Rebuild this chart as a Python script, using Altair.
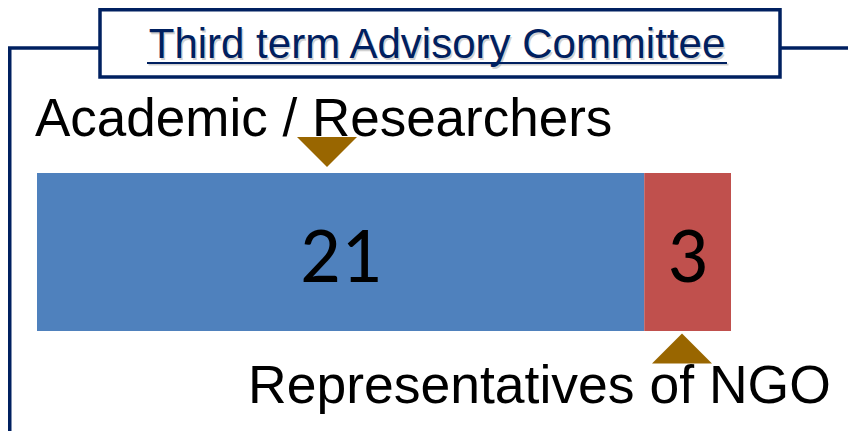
import altair as alt
import pandas as pd

# ---- data ----
segments = ["Academic / Researchers", "Representatives of NGO"]
counts = [21, 3]
seg_colors = ["#4F81BD", "#C0504D"]
title_text = "Third term Advisory Committee"

starts, ends = [], []
acc = 0
for c in counts:
    starts.append(acc)
    acc += c
    ends.append(acc)

df = pd.DataFrame({
    "segment": segments,
    "count": counts,
    "start": starts,
    "end": ends,
    "row": ["Committee"] * len(segments),
})
one = pd.DataFrame({"k": [0]})

NAVY = "#002060"
BROWN = "#996600"
LW = 3.5

xscale = alt.Scale(domain=[0, sum(counts)], range=[29, 723], nice=False, zero=True)
yscale = alt.Scale(range=[165, 323], paddingInner=0, paddingOuter=0)

bars = alt.Chart(df).mark_bar(size=158).encode(
    x=alt.X("start:Q", scale=xscale, axis=None),
    x2="end:Q",
    y=alt.Y("row:N", scale=yscale, axis=None),
    color=alt.Color("segment:N", scale=alt.Scale(domain=segments, range=seg_colors), legend=None),
)

labels = alt.Chart(df).transform_calculate(
    mid="(datum.start + datum.end) / 2"
).mark_text(font="Carlito, Lato, sans-serif", fontSize=80, color="black",
            baseline="alphabetic", dy=30).encode(
    x=alt.X("mid:Q", scale=xscale, axis=None),
    y=alt.Y("row:N", scale=yscale, axis=None),
    text=alt.Text("count:Q"),
)

base = alt.Chart(one)

# frame lines
vline = base.mark_rule(color=NAVY, strokeWidth=LW).encode(
    x=alt.value(1.75), y=alt.value(40), y2=alt.value(440))
hline_l = base.mark_rule(color=NAVY, strokeWidth=LW).encode(
    x=alt.value(0), x2=alt.value(92), y=alt.value(40))
hline_r = base.mark_rule(color=NAVY, strokeWidth=LW).encode(
    x=alt.value(772), x2=alt.value(860), y=alt.value(40))

# title box
box = base.mark_rect(fill="white", stroke=NAVY, strokeWidth=LW).encode(
    x=alt.value(92), x2=alt.value(772), y=alt.value(1.75), y2=alt.value(69))

title_shadow = base.mark_text(font="Liberation Sans", fontSize=42, color="#9a9a9a", opacity=0.45,
                              align="center", baseline="alphabetic").encode(
    x=alt.value(430.5), y=alt.value(51.5), text=alt.value(title_text))
underline_shadow = base.mark_rule(color="#9a9a9a", opacity=0.45, strokeWidth=2).encode(
    x=alt.value(140.5), x2=alt.value(720.5), y=alt.value(56.5))
title = base.mark_text(font="Liberation Sans", fontSize=42, color=NAVY,
                       align="center", baseline="alphabetic").encode(
    x=alt.value(429), y=alt.value(50), text=alt.value(title_text))
underline = base.mark_rule(color=NAVY, strokeWidth=2).encode(
    x=alt.value(139), x2=alt.value(719), y=alt.value(55))

# category labels
lab1 = base.mark_text(font="Liberation Sans", fontSize=53, color="black",
                      align="left", baseline="alphabetic").encode(
    x=alt.value(27), y=alt.value(128), text=alt.value(segments[0]))
lab2 = base.mark_text(font="Liberation Sans", fontSize=53.5, color="black",
                      align="left", baseline="alphabetic").encode(
    x=alt.value(240), y=alt.value(395), text=alt.value(segments[1]))

# pointer triangles
tri_down = base.mark_point(shape="M-1,-0.5L1,-0.5L0,0.5Z", filled=True, size=3600,
                           color=BROWN, opacity=1).encode(
    x=alt.value(319), y=alt.value(144))
tri_up = base.mark_point(shape="M-1,0.5L1,0.5L0,-0.5Z", filled=True, size=3600,
                         color=BROWN, opacity=1).encode(
    x=alt.value(674), y=alt.value(340.5))

chart = alt.layer(
    vline, hline_l, hline_r, box, title_shadow, underline_shadow, title, underline,
    bars, labels, lab1, lab2, tri_down, tri_up,
).properties(
    width=840, height=423, padding=0, autosize=alt.AutoSizeParams(type="none")
).configure_view(stroke=None)

chart.save("out.html", embed_options={"renderer": "svg", "actions": False})
